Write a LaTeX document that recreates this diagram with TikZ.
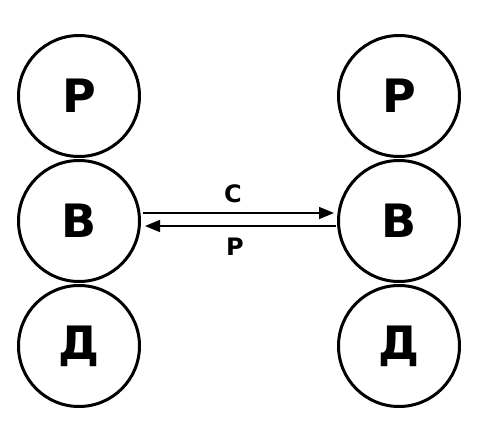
\documentclass[tikz,border=0pt]{standalone}
\usepackage{fontspec}
\setmainfont{DejaVu Sans}[BoldFont={DejaVu Sans Bold}]
\usetikzlibrary{arrows.meta}
\begin{document}
\begin{tikzpicture}[x=1pt,y=-1pt,
  circ/.style={circle,draw,line width=3pt,minimum size=121pt,inner sep=0pt,
    font=\fontsize{46}{46}\selectfont\bfseries},
  conn/.style={line width=1.5pt,-{Triangle[length=15pt,width=12pt]}},
  lbl/.style={font=\fontsize{24}{24}\selectfont\bfseries,inner sep=0pt}]
\useasboundingbox (0,0) rectangle (482,434);
\node[circ] (lp) at (79,96) {Р};
\node[circ] (lv) at (79,221) {В};
\node[circ] (ld) at (79,346) {Д};
\node[circ] (rp) at (399,96) {Р};
\node[circ] (rv) at (399,221) {В};
\node[circ] (rd) at (399,346) {Д};
\coordinate (a1) at (143,213);
\coordinate (a2) at (334,213);
\coordinate (b1) at (336,226);
\coordinate (b2) at (145,226);
\draw[conn] (a1) -- (a2);
\draw[conn] (b1) -- (b2);
\node[lbl] (c) at (233,194) {С};
\node[lbl] (p) at (235,247) {Р};
\end{tikzpicture}
\end{document}
